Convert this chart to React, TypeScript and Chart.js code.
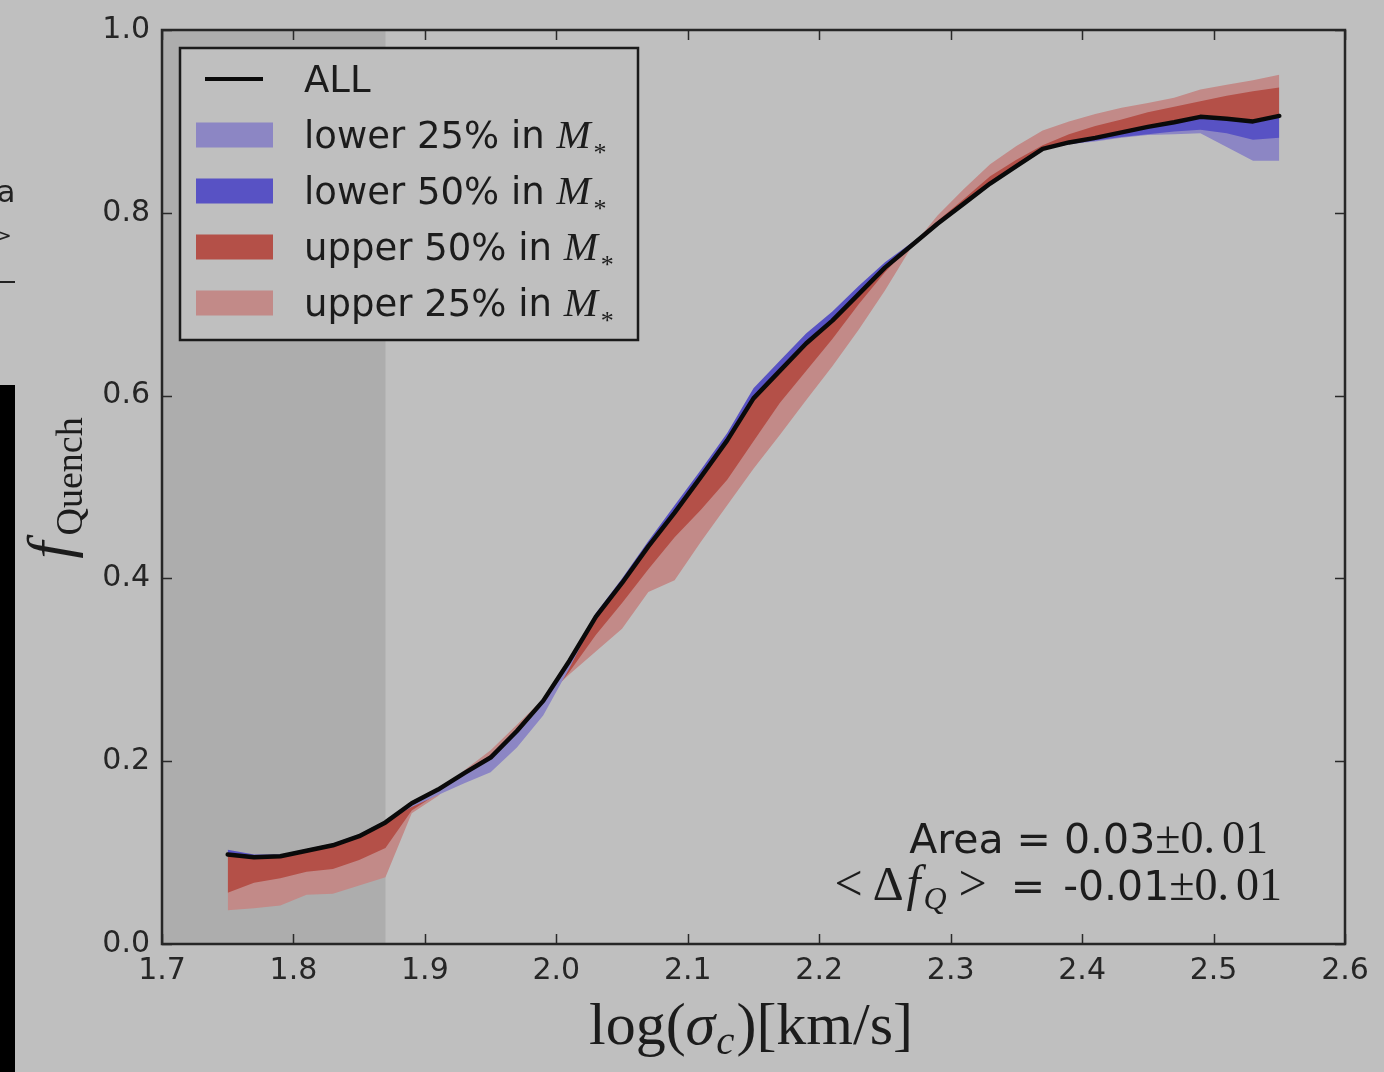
import React, { useEffect, useRef } from 'react';
import { Chart, registerables } from 'chart.js';

Chart.register(...registerables);

// ---------------- data ----------------
const X_VALUES = [
  1.75, 1.77, 1.79, 1.81, 1.83, 1.85, 1.87, 1.89, 1.91, 1.93, 1.95, 1.97, 1.99, 2.01,
  2.03, 2.05, 2.07, 2.09, 2.11, 2.13, 2.15, 2.17, 2.19, 2.21, 2.23, 2.25, 2.27, 2.29,
  2.31, 2.33, 2.35, 2.37, 2.39, 2.41, 2.43, 2.45, 2.47, 2.49, 2.51, 2.53, 2.55,
];
const ALL = [
  0.098, 0.095, 0.096, 0.102, 0.108, 0.118, 0.133, 0.154, 0.169, 0.187, 0.204, 0.233, 0.266, 0.31,
  0.358, 0.395, 0.435, 0.472, 0.511, 0.551, 0.597, 0.627, 0.657, 0.682, 0.711, 0.74, 0.764, 0.788,
  0.81, 0.832, 0.851, 0.87, 0.877, 0.882, 0.888, 0.894, 0.899, 0.905, 0.903, 0.9, 0.906,
];
const LOWER_50 = [
  0.103, 0.098, 0.098, 0.104, 0.11, 0.12, 0.135, 0.155, 0.17, 0.186, 0.202, 0.23, 0.264, 0.312,
  0.362, 0.4, 0.441, 0.48, 0.519, 0.559, 0.608, 0.638, 0.668, 0.692, 0.72, 0.746, 0.767, 0.789,
  0.81, 0.832, 0.851, 0.869, 0.875, 0.879, 0.883, 0.886, 0.889, 0.891, 0.887, 0.88, 0.882,
];
const LOWER_25 = [
  0.102, 0.097, 0.097, 0.103, 0.109, 0.119, 0.134, 0.15, 0.163, 0.176, 0.188, 0.215, 0.25, 0.302,
  0.358, 0.397, 0.438, 0.476, 0.515, 0.555, 0.603, 0.633, 0.663, 0.688, 0.716, 0.743, 0.765, 0.788,
  0.81, 0.832, 0.851, 0.869, 0.875, 0.878, 0.882, 0.885, 0.886, 0.887, 0.872, 0.857, 0.857,
];
const UPPER_50 = [
  0.056, 0.067, 0.072, 0.079, 0.082, 0.092, 0.105, 0.146, 0.165, 0.188, 0.207, 0.235, 0.262, 0.298,
  0.338, 0.373, 0.41, 0.445, 0.475, 0.508, 0.55, 0.592, 0.627, 0.662, 0.7, 0.735, 0.765, 0.791,
  0.815, 0.84, 0.858, 0.874, 0.886, 0.895, 0.902, 0.91, 0.916, 0.922, 0.928, 0.933, 0.937,
];
const UPPER_25 = [
  0.037, 0.039, 0.042, 0.054, 0.055, 0.064, 0.073, 0.143, 0.162, 0.19, 0.212, 0.24, 0.268, 0.295,
  0.32, 0.345, 0.385, 0.398, 0.44, 0.48, 0.52, 0.557, 0.595, 0.632, 0.672, 0.715, 0.762, 0.797,
  0.826, 0.853, 0.873, 0.89, 0.9, 0.908, 0.915, 0.92, 0.926, 0.935, 0.94, 0.945, 0.951,
];
const X_TICKS = [1.7, 1.8, 1.9, 2.0, 2.1, 2.2, 2.3, 2.4, 2.5, 2.6];
const Y_TICKS = [0.0, 0.2, 0.4, 0.6, 0.8, 1.0];
const SHADE_FROM = 1.7;
const SHADE_TO = 1.87;
const LEGEND_LABELS = ['ALL', 'lower 25% in ', 'lower 50% in ', 'upper 50% in ', 'upper 25% in '];
const AREA_VALUE = '0.03';
const DELTA_VALUE = '-0.01';
const ERR_VALUE = '0.01';

// ---------------- styles ----------------
const BG = '#bfbfbf';
const SHADE = '#adadad';
const C_LOWER25 = 'rgb(140,134,196)';
const C_LOWER50 = 'rgb(88,82,196)';
const C_UPPER50 = 'rgb(180,80,72)';
const C_UPPER25 = 'rgb(194,138,136)';
const TEXT = '#1c1c1c';
const SANS = '"DejaVu Sans"';
const SERIF = '"Liberation Serif"';

type Run = { t: string; f: string; dy?: number; dx?: number };

function runsWidth(ctx: CanvasRenderingContext2D, runs: Run[]) {
  let w = 0;
  for (const r of runs) {
    ctx.font = r.f;
    w += (r.dx || 0) + ctx.measureText(r.t).width;
  }
  return w;
}

function drawRuns(ctx: CanvasRenderingContext2D, runs: Run[], x: number, y: number, align: 'left' | 'right' | 'center') {
  const w = runsWidth(ctx, runs);
  let cx = align === 'left' ? x : align === 'right' ? x - w : x - w / 2;
  ctx.textAlign = 'left';
  ctx.textBaseline = 'alphabetic';
  for (const r of runs) {
    ctx.font = r.f;
    cx += r.dx || 0;
    ctx.fillText(r.t, cx, y + (r.dy || 0));
    cx += ctx.measureText(r.t).width;
  }
}

const decorPlugin = {
  id: 'decor',
  beforeDraw(chart: any) {
    const { ctx, chartArea, scales } = chart;
    const W = chart.width;
    const H = chart.height;
    ctx.save();
    ctx.fillStyle = BG;
    ctx.fillRect(0, 0, W, H);
    // cropped neighbour figure remnants on the left edge
    ctx.fillStyle = '#000';
    ctx.fillRect(0, 385, 15, H - 385);
    ctx.fillStyle = '#222';
    ctx.font = `30px ${SANS}`;
    ctx.textAlign = 'left';
    ctx.textBaseline = 'alphabetic';
    ctx.fillText('a', -3, 202);
    ctx.font = `20px ${SANS}`;
    ctx.fillText('>', -5, 242);
    ctx.fillRect(0, 281, 15, 2);
    // plot background + shaded region
    ctx.fillStyle = BG;
    ctx.fillRect(chartArea.left, chartArea.top, chartArea.right - chartArea.left, chartArea.bottom - chartArea.top);
    const x0 = scales.x.getPixelForValue(SHADE_FROM);
    const x1 = scales.x.getPixelForValue(SHADE_TO);
    ctx.fillStyle = SHADE;
    ctx.fillRect(x0, chartArea.top, x1 - x0, chartArea.bottom - chartArea.top);
    ctx.restore();
  },
  afterDatasetsDraw(chart: any) {
    const { ctx, chartArea, scales } = chart;
    const { left, right, top, bottom } = chartArea;
    ctx.save();
    // ticks (inward, all sides)
    ctx.strokeStyle = '#2a2a2a';
    ctx.lineWidth = 1.5;
    const TL = 10;
    for (const v of X_TICKS) {
      const px = Math.round(scales.x.getPixelForValue(v)) + 0.5;
      ctx.beginPath();
      ctx.moveTo(px, bottom);
      ctx.lineTo(px, bottom - TL);
      ctx.moveTo(px, top);
      ctx.lineTo(px, top + TL);
      ctx.stroke();
    }
    for (const v of Y_TICKS) {
      const py = Math.round(scales.y.getPixelForValue(v)) + 0.5;
      ctx.beginPath();
      ctx.moveTo(left, py);
      ctx.lineTo(left + TL, py);
      ctx.moveTo(right, py);
      ctx.lineTo(right - TL, py);
      ctx.stroke();
    }
    // frame
    ctx.strokeStyle = '#262626';
    ctx.lineWidth = 2.5;
    ctx.strokeRect(left, top, right - left, bottom - top);

    // legend
    const lx = 180, ly = 48, lw = 458, lh = 292;
    ctx.fillStyle = BG;
    ctx.fillRect(lx, ly, lw, lh);
    ctx.strokeStyle = '#1a1a1a';
    ctx.lineWidth = 2.5;
    ctx.strokeRect(lx, ly, lw, lh);
    const colors = [null, C_LOWER25, C_LOWER50, C_UPPER50, C_UPPER25];
    for (let i = 0; i < LEGEND_LABELS.length; i++) {
      const base = 92 + i * 56;
      const cy = base - 13;
      if (i === 0) {
        ctx.strokeStyle = '#0a0a0a';
        ctx.lineWidth = 4;
        ctx.beginPath();
        ctx.moveTo(205, cy);
        ctx.lineTo(263, cy);
        ctx.stroke();
      } else {
        ctx.fillStyle = colors[i] as string;
        ctx.fillRect(196, cy - 12.5, 77, 25);
      }
      ctx.fillStyle = TEXT;
      const runs: Run[] = [{ t: LEGEND_LABELS[i], f: `37px ${SANS}` }];
      if (i > 0) {
        runs.push({ t: 'M', f: `italic 41px ${SERIF}` });
        runs.push({ t: '*', f: `26px ${SERIF}`, dy: 13, dx: 3 });
      }
      drawRuns(ctx, runs, 304, base, 'left');
    }

    // annotation
    ctx.fillStyle = TEXT;
    drawRuns(ctx, [
      { t: `Area = ${AREA_VALUE}`, f: `41px ${SANS}` },
      { t: '±' + ERR_VALUE.slice(0, 2), f: `46px ${SERIF}` },
      { t: ERR_VALUE.slice(2), f: `46px ${SERIF}`, dx: 7 },
    ], 1268, 853, 'right');
    drawRuns(ctx, [
      { t: '<', f: `50px ${SERIF}` },
      { t: 'Δ', f: `48px ${SERIF}`, dx: 10 },
      { t: 'f', f: `italic 50px ${SERIF}`, dx: 3 },
      { t: 'Q', f: `italic 32px ${SERIF}`, dy: 9, dx: 3 },
      { t: '>', f: `50px ${SERIF}`, dx: 12 },
      { t: '=', f: `41px ${SANS}`, dx: 24 },
      { t: DELTA_VALUE, f: `41px ${SANS}`, dx: 18 },
      { t: '±' + ERR_VALUE.slice(0, 2), f: `46px ${SERIF}` },
      { t: ERR_VALUE.slice(2), f: `46px ${SERIF}`, dx: 7 },
    ], 1282, 900, 'right');

    // axis titles
    drawRuns(ctx, [
      { t: 'log(', f: `60px ${SERIF}` },
      { t: 'σ', f: `italic 60px ${SERIF}` },
      { t: 'c', f: `italic 41px ${SERIF}`, dy: 10, dx: 1 },
      { t: ')[km/s]', f: `60px ${SERIF}`, dx: 2 },
    ], 751, 1044, 'center');

    ctx.save();
    ctx.translate(70, 488);
    ctx.rotate(-Math.PI / 2);
    drawRuns(ctx, [
      { t: 'f', f: `italic 62px ${SERIF}` },
      { t: 'Quench', f: `38px ${SERIF}`, dy: 12, dx: 6 },
    ], 0, 0, 'center');
    ctx.restore();

    ctx.restore();
  },
};

function pts(arr: number[]) {
  return X_VALUES.map((x, i) => ({ x, y: arr[i] }));
}

export default function App() {
  const ref = useRef<HTMLCanvasElement | null>(null);
  useEffect(() => {
    if (!ref.current) return;
    const band = (label: string, arr: number[], color: string, order: number) => ({
      label,
      data: pts(arr),
      borderColor: 'transparent',
      borderWidth: 0,
      backgroundColor: color,
      pointRadius: 0,
      fill: { target: 0 },
      order,
      tension: 0,
    });
    const chart = new Chart(ref.current, {
      type: 'line',
      data: {
        datasets: [
          {
            label: 'ALL',
            data: pts(ALL),
            borderColor: '#0a0a0a',
            borderWidth: 4.5,
            pointRadius: 0,
            fill: false,
            order: 0,
            tension: 0,
            borderJoinStyle: 'round',
            borderCapStyle: 'round',
          } as any,
          band('lower 50%', LOWER_50, C_LOWER50, 1),
          band('lower 25%', LOWER_25, C_LOWER25, 2),
          band('upper 50%', UPPER_50, C_UPPER50, 3),
          band('upper 25%', UPPER_25, C_UPPER25, 4),
        ],
      },
      options: {
        responsive: false,
        animation: false,
        layout: { padding: { left: 0, top: 29, right: 39, bottom: 0 } },
        plugins: { legend: { display: false }, tooltip: { enabled: false } },
        scales: {
          x: {
            type: 'linear',
            min: 1.7,
            max: 2.6,
            grid: { display: false, drawTicks: false },
            border: { display: false },
            afterBuildTicks: (s: any) => { s.ticks = X_TICKS.map((v) => ({ value: v })); },
            afterFit: (s: any) => { s.height = 128; },
            ticks: {
              autoSkip: false,
              maxRotation: 0,
              padding: 9,
              color: '#262626',
              font: { family: 'DejaVu Sans', size: 30 },
              callback: (v: any) => Number(v).toFixed(1),
            },
          },
          y: {
            type: 'linear',
            min: 0,
            max: 1,
            grid: { display: false, drawTicks: false },
            border: { display: false },
            afterBuildTicks: (s: any) => { s.ticks = Y_TICKS.map((v) => ({ value: v })); },
            afterFit: (s: any) => { s.width = 162; },
            ticks: {
              autoSkip: false,
              padding: 12,
              color: '#262626',
              font: { family: 'DejaVu Sans', size: 30 },
              callback: (v: any) => Number(v).toFixed(1),
            },
          },
        },
      } as any,
      plugins: [decorPlugin],
    });
    return () => chart.destroy();
  }, []);
  return (
    <div style={{ position: 'absolute', left: 0, top: 0, width: 1384, height: 1072, background: BG }}>
      <canvas ref={ref} width={1384} height={1072} style={{ display: 'block' }} />
    </div>
  );
}
